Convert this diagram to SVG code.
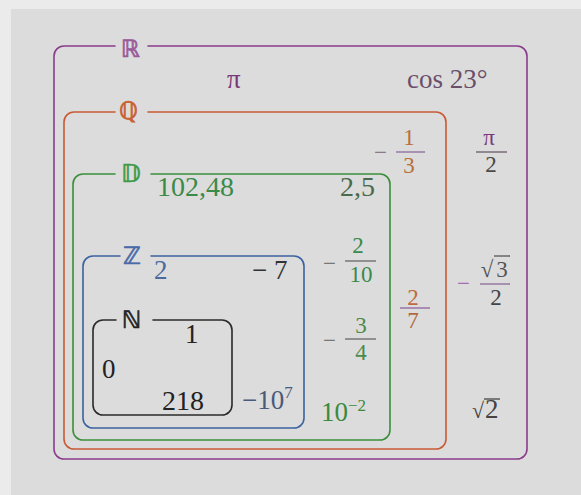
<svg xmlns="http://www.w3.org/2000/svg" width="581" height="495" viewBox="0 0 581 495">
<defs>
<style>
.box{fill:none;stroke-width:1.6;stroke-linecap:round}
.lbl{font-family:'DejaVu Sans','Noto Sans',sans-serif;font-size:24px;stroke-width:0.7}
.t{font-family:'Liberation Serif','Times New Roman',serif;font-size:27px}
.f{font-family:'Liberation Serif','Times New Roman',serif;font-size:23px;text-anchor:middle}
.m{font-family:'Liberation Serif','Times New Roman',serif;font-size:23px}
.sup{font-size:17px}
.bar{stroke-width:1.3}
</style>
</defs>
<rect x="0" y="0" width="581" height="495" fill="#ebebeb"/>
<rect x="11" y="9" width="570" height="486" fill="#dcdcdc"/>

<g id="set-R">
<path class="box" stroke="#8a3d8a" d="M148,46 H517 A10,10 0 0 1 527,56 V449 A10,10 0 0 1 517,459 H64 A10,10 0 0 1 54,449 V56 A10,10 0 0 1 64,46 H115"/>
<text class="lbl" x="121" y="57" fill="#9a5a9a" stroke="#9a5a9a">ℝ</text>
<text class="t" x="227" y="88" fill="#7a3a7a">π</text>
<text class="t" x="407" y="88" fill="#6a4f6a">cos 23°</text>
<text class="f" x="489" y="145" fill="#7a3a7a">π</text>
<line class="bar" x1="476" y1="152" x2="507" y2="152" stroke="#6a5a6a"/>
<text class="f" x="491" y="172" fill="#4a4a4a">2</text>
<text class="m" x="457" y="291" fill="#a070b0">−</text>
<text class="f" x="487" y="277" fill="#555">√</text>
<line class="bar" x1="494" y1="256" x2="510" y2="256" stroke="#555"/>
<text class="f" x="502" y="277" fill="#555">3</text>
<line class="bar" x1="480" y1="284" x2="510" y2="284" stroke="#8a6a9a"/>
<text class="f" x="496" y="305" fill="#444">2</text>
<text class="t" x="472" y="418" fill="#444" style="font-size:22px">√</text>
<line class="bar" x1="484" y1="399" x2="500" y2="399" stroke="#444"/>
<text class="t" x="485" y="418" fill="#444">2</text>
</g>

<g id="set-Q">
<path class="box" stroke="#c85a35" d="M148,112 H436 A10,10 0 0 1 446,122 V439 A10,10 0 0 1 436,449 H74 A10,10 0 0 1 64,439 V122 A10,10 0 0 1 74,112 H115"/>
<text class="lbl" x="119" y="119" fill="#c8602f" stroke="#c8602f">ℚ</text>
<text class="m" x="374" y="160" fill="#8a7a8a">−</text>
<text class="f" x="409" y="145" fill="#b8703a">1</text>
<line class="bar" x1="396" y1="152" x2="425" y2="152" stroke="#8a6a9a"/>
<text class="f" x="409" y="173" fill="#b8703a">3</text>
<text class="f" x="413" y="305" fill="#c06a40">2</text>
<line class="bar" x1="400" y1="308" x2="430" y2="308" stroke="#9060a0"/>
<text class="f" x="413" y="328" fill="#b06a40">7</text>
</g>

<g id="set-D">
<path class="box" stroke="#3a8f3a" d="M151,174 H380 A10,10 0 0 1 390,184 V430 A10,10 0 0 1 380,440 H83 A10,10 0 0 1 73,430 V184 A10,10 0 0 1 83,174 H115"/>
<text class="lbl" x="121" y="182" fill="#3f9a45" stroke="#3f9a45">𝔻</text>
<text class="t" x="157" y="196" fill="#3a8a4a" style="font-size:28px">102,48</text>
<text class="t" x="340" y="196" fill="#4a6a4a" style="font-size:28px">2,5</text>
<text class="m" x="323" y="271" fill="#777">−</text>
<text class="f" x="358" y="253" fill="#3a8a4a">2</text>
<line class="bar" x1="345" y1="261" x2="376" y2="261" stroke="#666"/>
<text class="f" x="361" y="282" fill="#3a8a4a">10</text>
<text class="m" x="323" y="348" fill="#777">−</text>
<text class="f" x="361" y="333" fill="#4a8a4a">3</text>
<line class="bar" x1="345" y1="339" x2="376" y2="339" stroke="#666"/>
<text class="f" x="361" y="360" fill="#4a8a4a">4</text>
<text class="t" x="321" y="421" fill="#3a8a3a">10<tspan class="sup" dy="-10">−2</tspan></text>
</g>

<g id="set-Z">
<path class="box" stroke="#3b62a0" d="M151,256 H294 A10,10 0 0 1 304,266 V418 A10,10 0 0 1 294,428 H93 A10,10 0 0 1 83,418 V266 A10,10 0 0 1 93,256 H120"/>
<text class="lbl" x="123" y="264" fill="#4a6aa8" stroke="#4a6aa8">ℤ</text>
<text class="t" x="154" y="279" fill="#4a6aa0">2</text>
<text class="t" x="252" y="279" fill="#333">− 7</text>
<text class="t" x="242" y="409" fill="#4a5a7a">−10<tspan class="sup" dy="-11">7</tspan></text>
</g>

<g id="set-N">
<path class="box" stroke="#2a2a2a" d="M153,320 H222 A10,10 0 0 1 232,330 V405 A10,10 0 0 1 222,415 H103 A10,10 0 0 1 93,405 V330 A10,10 0 0 1 103,320 H116"/>
<text class="lbl" x="122" y="328" fill="#222" stroke="#222">ℕ</text>
<text class="t" x="185" y="343" fill="#222">1</text>
<text class="t" x="102" y="378" fill="#222">0</text>
<text class="t" x="162" y="410" fill="#222" style="font-size:28px">218</text>
</g>
</svg>
